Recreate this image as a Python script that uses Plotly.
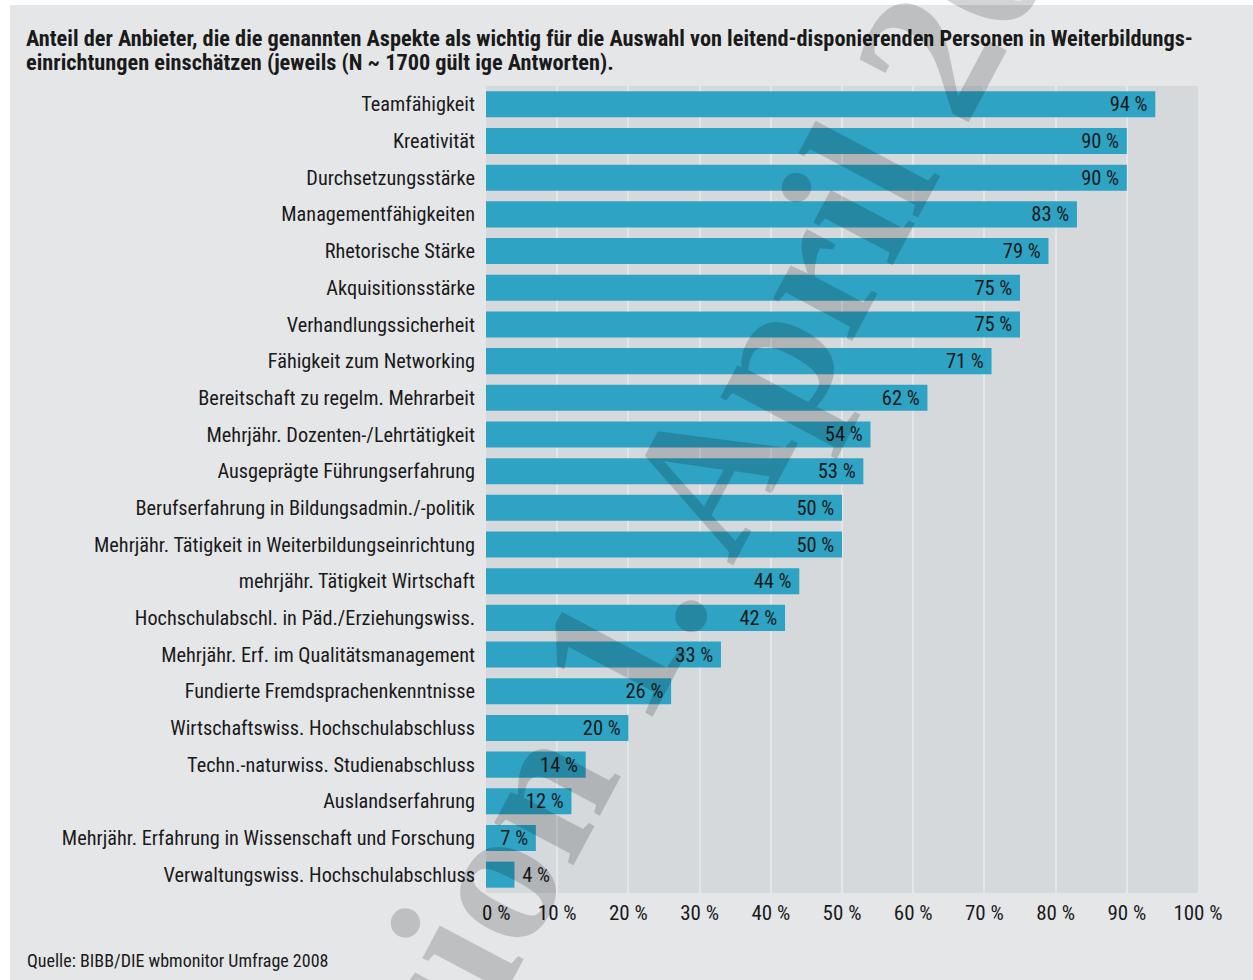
import plotly.graph_objects as go

categories = [
    "Teamfähigkeit",
    "Kreativität",
    "Durchsetzungsstärke",
    "Managementfähigkeiten",
    "Rhetorische Stärke",
    "Akquisitionsstärke",
    "Verhandlungssicherheit",
    "Fähigkeit zum Networking",
    "Bereitschaft zu regelm. Mehrarbeit",
    "Mehrjähr. Dozenten-/Lehrtätigkeit",
    "Ausgeprägte Führungserfahrung",
    "Berufserfahrung in Bildungsadmin./-politik",
    "Mehrjähr. Tätigkeit in Weiterbildungseinrichtung",
    "mehrjähr. Tätigkeit Wirtschaft",
    "Hochschulabschl. in Päd./Erziehungswiss.",
    "Mehrjähr. Erf. im Qualitätsmanagement",
    "Fundierte Fremdsprachenkenntnisse",
    "Wirtschaftswiss. Hochschulabschluss",
    "Techn.-naturwiss. Studienabschluss",
    "Auslandserfahrung",
    "Mehrjähr. Erfahrung in Wissenschaft und Forschung",
    "Verwaltungswiss. Hochschulabschluss",
]
values = [94, 90, 90, 83, 79, 75, 75, 71, 62, 54, 53, 50, 50, 44, 42, 33, 26, 20, 14, 12, 7, 4]
x_ticks = [0, 10, 20, 30, 40, 50, 60, 70, 80, 90, 100]
x_tick_labels = ["\u2007\u20070\u00a0%"] + [f"{t}\u00a0%" for t in x_ticks[1:]]

title_lines = [
    "Anteil der Anbieter, die die genannten Aspekte als wichtig für die Auswahl von "
    "leitend-disponierenden Personen in Weiterbildungs-",
    "einrichtungen einschätzen (jeweils (N ~ 1700 gült ige Antworten).",
]
source_text = "Quelle: BIBB/DIE wbmonitor Umfrage 2008"
watermark_text = "Version 1. April 2009"

FONT = "Liberation Sans Narrow, Roboto Condensed, Roboto, sans-serif"
BG = "#e5e6e8"
PLOT_BG = "#d5d9dc"
BAR = "#2ea3c3"
TXT = "#1a1a1a"

W, H = 1253, 980
L, R, T, B = 486, 55, 86, 87
pw, ph = W - L - R, H - T - B


def px_x(px):
    return (px - L) / pw


def px_y(py):
    return (H - B - py) / ph


text_labels = []
text_pos = []
for v in values:
    if v >= 6:
        text_labels.append(f"{v}\u00a0%\u00a0")
        text_pos.append("inside")
    else:
        text_labels.append(f"\u00a0{v}\u00a0%")
        text_pos.append("outside")

fig = go.Figure(go.Bar(
    x=values,
    y=categories,
    orientation="h",
    marker=dict(color=BAR, line=dict(width=0)),
    text=text_labels,
    textposition=text_pos,
    insidetextanchor="end",
    constraintext="none",
    textfont=dict(family=FONT, size=20.5, color=TXT),
    cliponaxis=False,
    hoverinfo="skip",
))

annotations = []
for i, line in enumerate(title_lines):
    annotations.append(dict(
        text=f"<b>{line}</b>", xref="paper", yref="paper",
        x=px_x(24), y=px_y(38 + 24 * i), xanchor="left", yanchor="middle", align="left",
        showarrow=False, font=dict(family=FONT, size=22.3, color=TXT)))
annotations.append(dict(
    text=source_text, xref="paper", yref="paper",
    x=px_x(25), y=px_y(960), xanchor="left", yanchor="middle", align="left",
    showarrow=False, font=dict(family=FONT, size=18, color=TXT)))
annotations.append(dict(
    text=f"<b>{watermark_text}</b>", xref="paper", yref="paper",
    x=px_x(677), y=px_y(528), xanchor="center", yanchor="middle",
    textangle=-62, showarrow=False,
    font=dict(family="Liberation Serif, DejaVu Serif, serif", size=196,
              color="rgba(0,0,0,0.17)")))

fig.update_layout(
    width=W, height=H,
    margin=dict(l=L, r=R, t=T, b=B, autoexpand=False),
    paper_bgcolor=BG,
    plot_bgcolor=PLOT_BG,
    bargap=0.29,
    showlegend=False,
    font=dict(family=FONT, size=20, color=TXT),
    xaxis=dict(
        range=[0, 100],
        tickvals=x_ticks,
        ticktext=x_tick_labels,
        showgrid=True,
        gridcolor=BG,
        gridwidth=2,
        zeroline=False,
        showline=False,
        ticks="",
        ticklabelstandoff=5,
        automargin=False,
        tickfont=dict(family=FONT, size=21, color=TXT),
        fixedrange=True,
    ),
    yaxis=dict(
        autorange="reversed",
        showgrid=False,
        zeroline=False,
        showline=False,
        ticks="",
        ticklabelstandoff=10,
        automargin=False,
        tickfont=dict(family=FONT, size=20.3, color=TXT),
        fixedrange=True,
    ),
    shapes=[
        dict(type="rect", xref="paper", yref="paper",
             x0=px_x(-20), x1=px_x(W + 20), y0=px_y(5), y1=px_y(-20),
             fillcolor="white", line=dict(width=0), layer="above"),
        dict(type="rect", xref="paper", yref="paper",
             x0=px_x(-20), x1=px_x(10), y0=px_y(H + 20), y1=px_y(-20),
             fillcolor="white", line=dict(width=0), layer="above"),
    ],
    annotations=annotations,
)

fig.write_html("out.html", config={"displayModeBar": False},
               post_script="document.body.style.margin='0';document.body.style.overflow='hidden';")
